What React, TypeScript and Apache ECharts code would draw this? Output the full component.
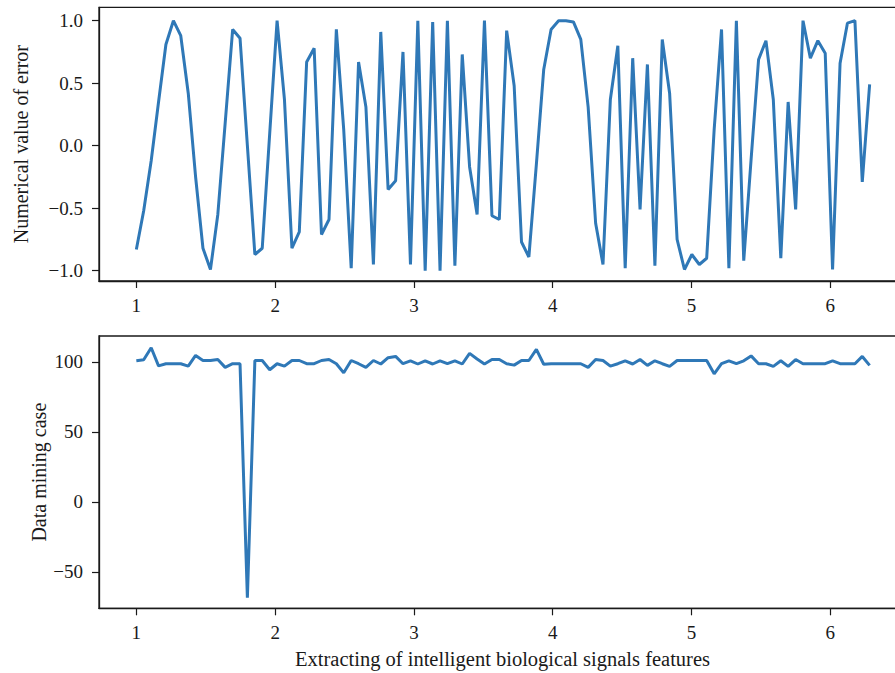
import React, { useEffect, useRef } from "react";
import * as echarts from "echarts";

// sample positions along the x axis (feature index)
const xValues = [
  1.000, 1.053, 1.107, 1.160, 1.213, 1.267, 1.320, 1.374, 1.427, 1.480,
  1.534, 1.587, 1.640, 1.694, 1.747, 1.800, 1.854, 1.907, 1.961, 2.014,
  2.067, 2.121, 2.174, 2.227, 2.281, 2.334, 2.388, 2.441, 2.494, 2.548,
  2.601, 2.654, 2.708, 2.761, 2.814, 2.868, 2.921, 2.975, 3.028, 3.081,
  3.135, 3.188, 3.241, 3.295, 3.348, 3.401, 3.455, 3.508, 3.562, 3.615,
  3.668, 3.722, 3.775, 3.828, 3.882, 3.935, 3.988, 4.042, 4.095, 4.149,
  4.202, 4.255, 4.309, 4.362, 4.415, 4.469, 4.522, 4.576, 4.629, 4.682,
  4.736, 4.789, 4.842, 4.896, 4.949, 5.002, 5.056, 5.109, 5.163, 5.216,
  5.269, 5.323, 5.376, 5.429, 5.483, 5.536, 5.589, 5.643, 5.696, 5.750,
  5.803, 5.856, 5.910, 5.963, 6.016, 6.070, 6.123, 6.177, 6.230, 6.283,
];

// top panel: numerical value of error
const errorValues = [
  -0.83, -0.52, -0.12, 0.35, 0.81, 1.0, 0.88, 0.42, -0.25, -0.82,
  -0.99, -0.55, 0.18, 0.93, 0.86, 0.0, -0.87, -0.82, 0.1, 1.0,
  0.37, -0.82, -0.69, 0.67, 0.78, -0.71, -0.59, 0.93, 0.13, -0.98,
  0.67, 0.31, -0.95, 0.91, -0.35, -0.28, 0.75, -0.95, 1.0, -1.0,
  0.99, -1.0, 1.0, -0.96, 0.73, -0.17, -0.55, 1.0, -0.56, -0.59,
  0.92, 0.48, -0.77, -0.89, -0.15, 0.61, 0.93, 1.0, 1.0, 0.99,
  0.85, 0.31, -0.62, -0.95, 0.37, 0.8, -0.98, 0.7, -0.51, 0.65,
  -0.96, 0.85, 0.42, -0.75, -0.99, -0.87, -0.95, -0.9, 0.13, 0.93,
  -0.98, 1.0, -0.92, -0.11, 0.69, 0.84, 0.37, -0.9, 0.35, -0.51,
  1.0, 0.7, 0.84, 0.74, -0.99, 0.66, 0.98, 1.0, -0.29, 0.49,
];

// bottom panel: data mining case
const miningValues = [
  100.7, 101.4, 110.0, 97.1, 98.6, 98.6, 98.6, 96.9, 104.5, 100.9,
  100.9, 101.6, 96.0, 98.6, 98.6, -68.6, 100.9, 100.9, 94.3, 98.6,
  96.9, 100.9, 100.9, 98.6, 98.6, 100.9, 101.6, 98.6, 92.1, 100.9,
  98.6, 96.0, 100.9, 98.4, 102.9, 103.8, 98.6, 100.7, 98.4, 100.7,
  98.4, 100.7, 98.6, 100.7, 98.4, 106.0, 102.0, 98.4, 101.6, 101.6,
  98.6, 97.6, 100.9, 100.9, 108.8, 98.2, 98.6, 98.6, 98.6, 98.6,
  98.6, 96.0, 101.6, 100.9, 96.9, 98.6, 100.7, 98.4, 101.6, 97.4,
  100.7, 98.6, 96.7, 100.9, 100.9, 100.9, 100.9, 100.9, 91.4, 98.6,
  100.7, 98.6, 100.7, 104.2, 98.6, 98.6, 96.7, 100.7, 96.7, 101.6,
  98.6, 98.6, 98.6, 98.6, 100.7, 98.6, 98.6, 98.6, 103.8, 97.4,
];

const xTicks = [1, 2, 3, 4, 5, 6];
const errorTicks = [-1.0, -0.5, 0.0, 0.5, 1.0];
const miningTicks = [-50, 0, 50, 100];

const FONT = "'Liberation Serif', 'Times New Roman', serif";
const INK = "#1a1a1a";
const LINE = "#2f78b7";

function xAxisOf(gridIndex: number, withName: boolean): any {
  return {
    type: "value",
    gridIndex,
    min: 0.731,
    max: 6.545,
    splitLine: { show: false },
    axisLine: { show: true, onZero: false, lineStyle: { color: INK, width: 1.3 } },
    axisTick: {
      show: true,
      customValues: xTicks,
      length: 7,
      lineStyle: { color: INK, width: 1.2 },
    },
    axisLabel: {
      customValues: xTicks,
      margin: 15,
      fontSize: 19,
      fontFamily: FONT,
      color: INK,
    },
    name: withName ? "Extracting of intelligent biological signals features" : "",
    nameLocation: "middle",
    nameGap: 40,
    nameMoveOverlap: false,
    nameTextStyle: { fontSize: 20.5, fontFamily: FONT, color: INK },
  };
}

export default function App() {
  const ref = useRef<HTMLDivElement>(null);

  useEffect(() => {
    if (!ref.current) return;
    const chart = echarts.init(ref.current, null, { renderer: "svg" });
    const minus = (s: string) => s.replace("-", "\u2212");
    chart.setOption({
      animation: false,
      backgroundColor: "#ffffff",
      grid: [
        { left: 99, top: 7.3, width: 807, height: 273.7, show: true, borderColor: INK, borderWidth: 1.3 },
        { left: 99, top: 336, width: 807, height: 272.3, show: true, borderColor: INK, borderWidth: 1.3 },
      ],
      xAxis: [xAxisOf(0, false), xAxisOf(1, true)],
      yAxis: [
        {
          type: "value",
          gridIndex: 0,
          min: -1.082,
          max: 1.107,
          splitLine: { show: false },
          axisLine: { show: true, onZero: false, lineStyle: { color: INK, width: 1.3 } },
          axisTick: { show: true, customValues: errorTicks, length: 7, lineStyle: { color: INK, width: 1.2 } },
          axisLabel: {
            customValues: errorTicks,
            margin: 16,
            fontSize: 19,
            fontFamily: FONT,
            color: INK,
            formatter: (v: number) => minus(v.toFixed(1)),
          },
          name: "Numerical value of error",
          nameLocation: "middle",
          nameRotate: 90,
          nameGap: 68,
          nameMoveOverlap: false,
          nameTextStyle: { fontSize: 20, fontFamily: FONT, color: INK },
        },
        {
          type: "value",
          gridIndex: 1,
          min: -76.1,
          max: 118.4,
          splitLine: { show: false },
          axisLine: { show: true, onZero: false, lineStyle: { color: INK, width: 1.3 } },
          axisTick: { show: true, customValues: miningTicks, length: 7, lineStyle: { color: INK, width: 1.2 } },
          axisLabel: {
            customValues: miningTicks,
            margin: 16,
            fontSize: 19,
            fontFamily: FONT,
            color: INK,
            formatter: (v: number) => minus(String(Math.round(v))),
          },
          name: "Data mining case",
          nameLocation: "middle",
          nameRotate: 90,
          nameGap: 50,
          nameMoveOverlap: false,
          nameTextStyle: { fontSize: 20, fontFamily: FONT, color: INK },
        },
      ],
      series: [
        {
          type: "line",
          xAxisIndex: 0,
          yAxisIndex: 0,
          showSymbol: false,
          lineStyle: { color: LINE, width: 3 },
          data: xValues.map((x, i) => [x, errorValues[i]]),
        },
        {
          type: "line",
          xAxisIndex: 1,
          yAxisIndex: 1,
          showSymbol: false,
          lineStyle: { color: LINE, width: 3 },
          data: xValues.map((x, i) => [x, miningValues[i]]),
        },
      ],
    });
    return () => chart.dispose();
  }, []);

  return (
    <div style={{ position: "absolute", left: 0, top: 0, width: 895, height: 673, overflow: "hidden", background: "#fff" }}>
      <div ref={ref} style={{ position: "absolute", left: 0, top: 0, width: 920, height: 673 }} />
    </div>
  );
}
